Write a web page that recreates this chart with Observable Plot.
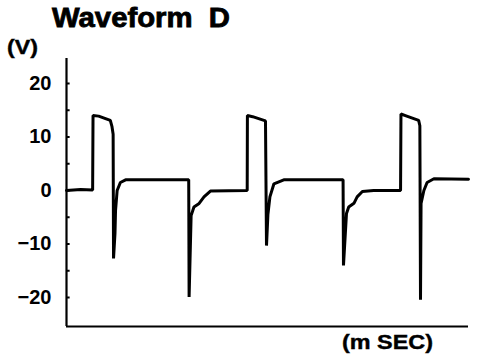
<!DOCTYPE html>
<html>
<head>
<meta charset="utf-8">
<script src="https://cdn.jsdelivr.net/npm/d3@7"></script>
<script src="https://cdn.jsdelivr.net/npm/@observablehq/plot@0.6"></script>
<style>
  html, body { margin: 0; padding: 0; background: #fff; }
  #chart { width: 480px; height: 364px; }
</style>
</head>
<body>
<div id="chart"></div>
<script>
// Time (arbitrary ms units, 0..100 across the axis) and voltage (V)
const timeMs = [
  0, 3.5, 6.5, 6.6, 8, 10.9, 11.3, 11.6, 11.7, 12.06, 12.2, 12.6, 13.4, 14.7,
  30.4, 30.5, 31.0, 31.7, 32.9, 34.2, 35.8,
  44.95, 45.0, 46.3, 49.5, 49.75, 50.1, 50.6, 51.6, 54.05,
  68.8, 68.9, 69.65, 70.2, 71.5, 72.3, 73.6, 76.4,
  83.1, 83.2, 84.3, 87.6, 87.9, 88.06, 88.2, 88.9, 89.7, 91.4, 100
];
const volts = [
  0, 0.2, 0.1, 14.0, 13.9, 13.1, 12.0, 10.5, -12.7, -8, -3.7, 0, 1.5, 2.0,
  2.0, -19.9, -4.7, -3.1, -2.5, -1.2, -0.1,
  0, 14.0, 13.8, 13.0, -10.3, -4.5, -1.2, 1.25, 2.0,
  2.0, -14, -4.3, -3.1, -2.4, -1.2, -0.2, 0,
  0, 14.3, 14.0, 13.1, 12.1, -20.4, -2.4, 0, 1.5, 2.2, 2.1
];
const yTickLabels = [20, 10, 0, -10, -20];
const yMinorTicks = [20, 15, 10, 5, 0, -5, -10, -15, -20];
const titleText = "Waveform  D";
const yUnitText = "(V)";
const xUnitText = "(m SEC)";

const data = timeMs.map((t, i) => ({t, v: volts[i]}));
const yMin = -25.42, yMax = 24.67;

const font = "'Liberation Sans', Arial, Helvetica, sans-serif";

const plot = Plot.plot({
  width: 480,
  height: 364,
  marginLeft: 66,
  marginRight: 12,
  marginTop: 58,
  marginBottom: 38,
  style: {fontFamily: font, background: "#fff", color: "#000"},
  x: {domain: [0, 100], axis: null},
  y: {domain: [yMin, yMax], axis: null},
  marks: [
    Plot.axisY(yTickLabels, {
      label: null,
      tickSize: 0, tickPadding: 15, fontSize: 20, fontWeight: "bold", fill: "#000",
      stroke: "#000", strokeWidth: 0.6
    }),
    Plot.ruleY(yMinorTicks, {y: d => d, x1: 0, x2: 0.9, stroke: "#000", strokeWidth: 2}),
    Plot.ruleX([0], {y1: yMin, y2: yMax, stroke: "#000", strokeWidth: 2.2}),
    Plot.ruleY([yMin], {x1: 0, x2: 100, stroke: "#000", strokeWidth: 2.2}),
    Plot.line(data, {x: "t", y: "v", stroke: "#000", strokeWidth: 3, strokeLinejoin: "miter", curve: "linear"})
  ]
});

document.getElementById("chart").appendChild(plot);

const svg = d3.select(plot);
svg.append("text")
  .attr("x", 52).attr("y", 27).attr("text-anchor", "start")
  .attr("font-family", font).attr("font-size", 27).attr("font-weight", "bold")
  .attr("stroke", "#000").attr("stroke-width", 0.8)
  .attr("textLength", 178).attr("lengthAdjust", "spacingAndGlyphs")
  .attr("fill", "#000").text(titleText);
svg.append("text")
  .attr("x", 7).attr("y", 54).attr("text-anchor", "start")
  .attr("font-family", font).attr("font-size", 20).attr("font-weight", "bold")
  .attr("stroke", "#000").attr("stroke-width", 0.4)
  .attr("textLength", 31).attr("lengthAdjust", "spacingAndGlyphs")
  .attr("fill", "#000").text(yUnitText);
svg.append("text")
  .attr("x", 342).attr("y", 349).attr("text-anchor", "start")
  .attr("font-family", font).attr("font-size", 20).attr("font-weight", "bold")
  .attr("stroke", "#000").attr("stroke-width", 0.4)
  .attr("textLength", 91).attr("lengthAdjust", "spacingAndGlyphs")
  .attr("fill", "#000").text(xUnitText);
</script>
</body>
</html>
